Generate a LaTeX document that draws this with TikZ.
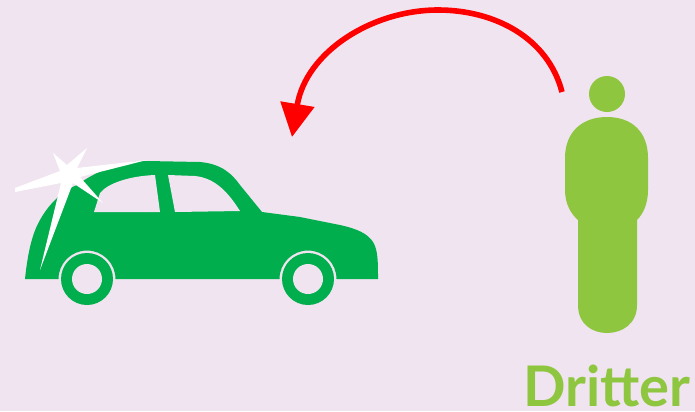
\documentclass[tikz,border=0pt]{standalone}
\usepackage{fontspec}
\setsansfont{Lato}
\usetikzlibrary{arrows.meta}
\definecolor{backcol}{HTML}{F0E4F0}
\definecolor{carcol}{HTML}{00AE4D}
\definecolor{mancol}{HTML}{8FC640}

\begin{document}
\begin{tikzpicture}[x=0.75pt, y=-0.75pt]
	\tikzset{
		carfill/.style={fill=carcol, draw=none},
		holefill/.style={fill=backcol, draw=none},
		manfill/.style={fill=mancol, draw=none},
		sparkfill/.style={fill=white, draw=none},
		lookarrow/.style={draw=red, line width=4.2pt, -{Triangle[length=25pt, width=25pt]}}
	}
	\useasboundingbox (0, 0) rectangle (695, 411);
	\fill[backcol] (0, 0) rectangle (695, 411);
	% Car body, windows and wheels:
	\fill[carfill] (25, 279) .. controls (28, 250) and (33, 232) .. (40, 220) .. controls (47, 207) and (60, 192) .. (77, 185)
		.. controls (95, 172) and (120, 161) .. (147, 161) -- (200, 162) .. controls (222, 164) and (232, 174) .. (240, 185)
		-- (262, 212) -- (300, 217) -- (340, 225) .. controls (358, 229) and (368, 234) .. (373, 242)
		.. controls (378, 250) and (378, 262) .. (378, 279) -- (336.5, 279) arc[start angle=0, end angle=-180, radius=28.5] -- (115.5, 279)
		arc[start angle=0, end angle=-180, radius=28.5] -- cycle;
	\fill[holefill] (94, 212) -- (100, 193) .. controls (108, 183) and (130, 176) .. (155, 175) -- (160, 212) -- cycle;
	\fill[holefill] (168, 175) -- (195, 176) .. controls (215, 178) and (228, 192) .. (240, 211) -- (175, 212) -- cycle;
	\foreach \cx in {87, 308}{
		\fill[carfill] (\cx, 279) circle[radius=26];
		\fill[holefill] (\cx, 279) circle[radius=15];
	}
	% Spark on the rear of the car:
	\fill[sparkfill] (15, 188) -- (60, 171) -- (53, 153) -- (67, 165) -- (87, 148) -- (77, 168) -- (147, 160) -- (80, 177)
		-- (103, 203) -- (73, 183) -- (40, 270) -- (61, 183) -- (15, 192) -- cycle;
	% Third person:
	\fill[manfill] (607, 94) circle[radius=18];
	\fill[manfill] (607, 117) .. controls (632, 117) and (648, 132) .. (648, 158) -- (648, 190) .. controls (648, 204) and (643, 214) .. (637, 220)
		-- (637, 305) .. controls (637, 324) and (622, 333) .. (607, 333) .. controls (592, 333) and (578, 324) .. (578, 305) -- (578, 220)
		.. controls (571, 214) and (565, 204) .. (565, 190) -- (565, 158) .. controls (565, 132) and (582, 117) .. (607, 117) -- cycle;
	\node[anchor=base west, inner sep=0pt, text=mancol, font=\sffamily\bfseries\fontsize{42}{42}\selectfont] (dritter) at (523, 406){Dritter};
	% Arrow from the person to the car:
	\coordinate (armstart) at (562, 92);
	\coordinate (armtop) at (438, 10);
	\coordinate (armend) at (292, 137);
	\draw[lookarrow] (armstart) .. controls (548, 38) and (495, 10) .. (armtop) .. controls (372, 10) and (306, 52) .. (armend);
\end{tikzpicture}
\end{document}
